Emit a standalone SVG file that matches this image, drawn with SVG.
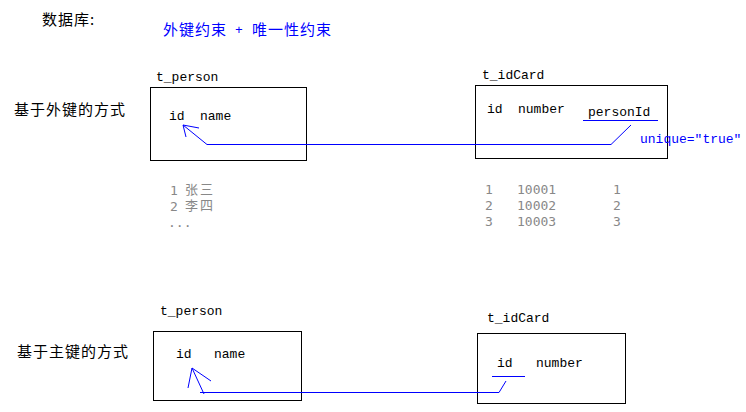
<svg xmlns="http://www.w3.org/2000/svg" width="746" height="412" viewBox="0 0 746 412">
<style>
.bg{fill:#ffffff}
.box{fill:none;stroke:#000;stroke-width:1}
.mono{font-family:"Liberation Mono","DejaVu Sans Mono",monospace;font-size:13px;fill:#000}
.cjk{font-family:"Noto Sans CJK SC","Noto Sans CJK JP",sans-serif;font-size:15px;letter-spacing:1px;fill:#000}
.blue{fill:#0000ff}
.gray{font-family:"DejaVu Sans Mono","Liberation Mono",monospace;font-size:13px;fill:#888}
.grayc{font-family:"Noto Sans CJK SC",sans-serif;font-size:13px;letter-spacing:2px;fill:#888}
.ln{fill:none;stroke:#0000ff;stroke-width:1}
</style>
<rect class="bg" x="0" y="0" width="746" height="412"/>
<g id="titles">
<text class="cjk" x="42" y="25">数据库:</text>
<text class="cjk blue" x="163" y="35">外键约束</text>
<text class="mono blue" x="235" y="34">+</text>
<text class="cjk blue" x="252" y="35">唯一性约束</text>
<text class="cjk" x="14" y="115">基于外键的方式</text>
<text class="cjk" x="17" y="357">基于主键的方式</text>
</g>
<g id="person1">
<text class="mono" x="156" y="81">t_person</text>
<rect class="box" x="150.5" y="87.5" width="156" height="73"/>
<text class="mono" x="169" y="120">id</text>
<text class="mono" x="200" y="120">name</text>
</g>
<g id="idcard1">
<text class="mono" x="482" y="79">t_idCard</text>
<rect class="box" x="475.5" y="85.5" width="192" height="73"/>
<text class="mono" x="487" y="113">id</text>
<text class="mono" x="518" y="113">number</text>
<text class="mono" x="588" y="116">personId</text>
<text class="mono blue" x="640" y="143">unique="true"</text>
</g>
<g id="data1">
<text class="gray"><tspan x="170" y="195">1</tspan><tspan class="grayc" x="185" y="194">张三</tspan><tspan x="170" y="211">2</tspan><tspan class="grayc" x="185" y="210">李四</tspan><tspan x="168" y="227">...</tspan></text>
<text class="gray" x="485" y="194">1</text>
<text class="gray" x="517" y="194">10001</text>
<text class="gray" x="613" y="194">1</text>
<text class="gray" x="485" y="210">2</text>
<text class="gray" x="517" y="210">10002</text>
<text class="gray" x="613" y="210">2</text>
<text class="gray" x="485" y="226">3</text>
<text class="gray" x="517" y="226">10003</text>
<text class="gray" x="613" y="226">3</text>
</g>
<g id="person2">
<text class="mono" x="160" y="315">t_person</text>
<rect class="box" x="153.5" y="331.5" width="148" height="69"/>
<text class="mono" x="176" y="358">id</text>
<text class="mono" x="214" y="358">name</text>
</g>
<g id="idcard2">
<text class="mono" x="487" y="322">t_idCard</text>
<rect class="box" x="477.5" y="333.5" width="148" height="70"/>
<text class="mono" x="497" y="367">id</text>
<text class="mono" x="536" y="367">number</text>
</g>
<g id="connectors">
<path class="ln" d="M583 120.5H658"/>
<path class="ln" d="M631 125L611 144.5H207L183 125M183 125L199 128M183 125L186 137"/>
<path class="ln" d="M492 376.5H525"/>
<path class="ln" d="M506 381L499 392.5H200M204 394L192 368M192 368L211 381M192 368L188 388"/>
</g>
</svg>
